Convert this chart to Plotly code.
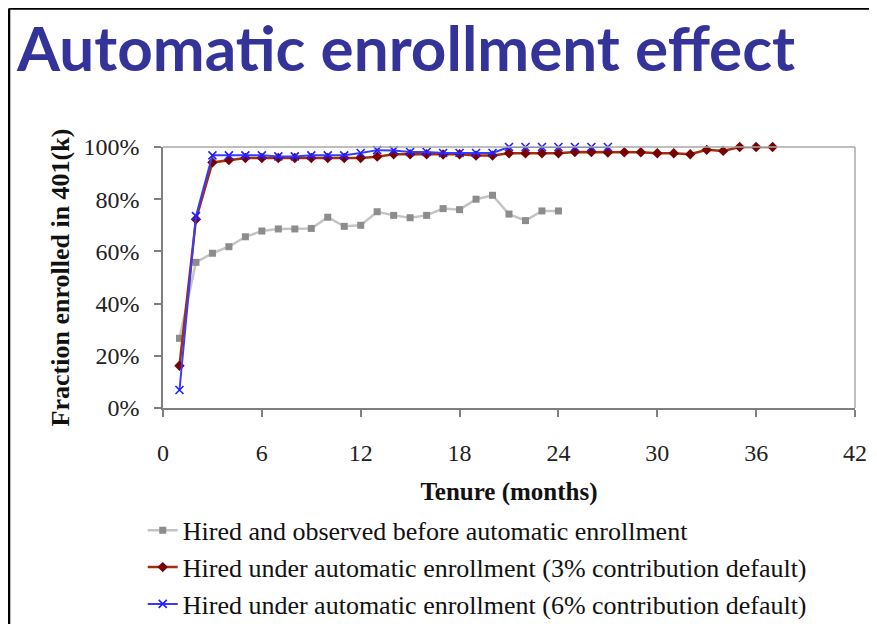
import plotly.graph_objects as go

# Tenure in months
months_before = list(range(1, 25))
months_3pct = list(range(1, 38))
months_6pct = list(range(1, 28))

# Fraction enrolled in 401(k)
frac_before = [0.267, 0.558, 0.593, 0.618, 0.656, 0.678, 0.686, 0.686, 0.688, 0.731,
               0.696, 0.700, 0.752, 0.738, 0.729, 0.738, 0.764, 0.760, 0.800, 0.815,
               0.743, 0.718, 0.755, 0.755]
frac_3pct = [0.162, 0.723, 0.941, 0.950, 0.958, 0.958, 0.958, 0.958, 0.958, 0.958,
             0.958, 0.958, 0.963, 0.972, 0.972, 0.972, 0.971, 0.972, 0.967, 0.967,
             0.976, 0.976, 0.976, 0.976, 0.981, 0.981, 0.979, 0.980, 0.980, 0.976,
             0.976, 0.972, 0.989, 0.985, 1.000, 1.000, 1.000]
frac_6pct = [0.069, 0.735, 0.968, 0.968, 0.968, 0.968, 0.964, 0.964, 0.968, 0.968,
             0.968, 0.977, 0.988, 0.987, 0.981, 0.981, 0.977, 0.977, 0.977, 0.977,
             1.000, 1.000, 1.000, 1.000, 1.000, 1.000, 1.000]

labels = [
    'Hired and observed before automatic enrollment',
    'Hired under automatic enrollment (3% contribution default)',
    'Hired under automatic enrollment (6% contribution default)',
]

serif = 'Liberation Serif'

fig = go.Figure()

fig.add_trace(
    go.Scatter(
        x=months_before,
        y=frac_before,
        name=labels[0],
        legendgroup='a',
        mode='lines+markers',
        line=dict(color='#c4c4c4', width=2.5),
        marker=dict(symbol='square', size=7, color='#8c8c8c'),
        cliponaxis=False
    )
)

fig.add_trace(
    go.Scatter(
        x=months_3pct,
        y=frac_3pct,
        name=labels[1],
        legendgroup='b',
        mode='lines+markers',
        line=dict(color='#a0300a', width=2.5),
        marker=dict(symbol='diamond', size=8, color='#7a0000'),
        cliponaxis=False
    )
)

fig.add_trace(
    go.Scatter(
        x=months_6pct,
        y=frac_6pct,
        name=labels[2],
        legendgroup='c',
        mode='lines+markers',
        line=dict(color='#3a3aff', width=2),
        marker=dict(symbol='x-thin', size=8, color='#2020ff',
                    line=dict(color='#2020ff', width=1.6)),
        cliponaxis=False
    )
)

fig.update_xaxes(
    range=[0, 42],
    dtick=6,
    tick0=0,
    automargin=False,
    showgrid=False,
    zeroline=False,
    showline=True,
    linecolor='#7f7f7f',
    linewidth=1.5,
    ticks='outside',
    ticklen=7,
    tickcolor='#7f7f7f',
    tickwidth=1.5,
    tickfont=dict(family=serif, size=24, color='#222222'),
    ticklabelstandoff=15,
    ticklabeloverflow='allow',
    title=dict(text='<b>Tenure (months)</b>',
               font=dict(family=serif, size=25, color='#111111'),
               standoff=18)
)

fig.update_yaxes(
    range=[0, 1],
    dtick=0.2,
    tickformat='.0%',
    automargin=False,
    showgrid=False,
    zeroline=False,
    showline=True,
    linecolor='#7f7f7f',
    linewidth=1.5,
    ticks='outside',
    ticklen=7,
    tickcolor='#7f7f7f',
    tickwidth=1.5,
    tickfont=dict(family=serif, size=24, color='#222222'),
    ticklabelstandoff=10,
    title=dict(text='<b>Fraction enrolled in 401(k)</b>',
               font=dict(family=serif, size=26, color='#111111'),
               standoff=6)
)

# light border on top and right of plot area
fig.add_shape(type='line', xref='paper', yref='paper', x0=0, x1=1, y0=1, y1=1,
              line=dict(color='#a8a8a8', width=1.5))
fig.add_shape(type='line', xref='paper', yref='paper', x0=1, x1=1, y0=0, y1=1,
              line=dict(color='#a8a8a8', width=1.5))

# slide frame (top and left edges)
fig.add_shape(type='line', xref='paper', yref='paper', x0=-0.2225, x1=1.06,
              y0=1.5308, y1=1.5308, line=dict(color='black', width=2.5))
fig.add_shape(type='line', xref='paper', yref='paper', x0=-0.2225, x1=-0.2225,
              y0=1.5308, y1=-0.95, line=dict(color='black', width=2.5))

fig.add_annotation(
    text='Automatic enrollment effect',
    xref='paper', yref='paper',
    x=-0.2153, y=1.532,
    xanchor='left', yanchor='top',
    showarrow=False,
    font=dict(family='Lato', size=62, color='#333399', weight=700)
)

# page body adds 8px around the figure, so it is made smaller
fig.update_layout(
    width=869,
    height=616,
    margin=dict(l=155, r=22, t=139, b=216, autoexpand=False),
    plot_bgcolor='white',
    paper_bgcolor='white',
    showlegend=True,
    legend=dict(
        x=-0.0293, y=-0.379,
        xanchor='left', yanchor='top',
        traceorder='grouped',
        tracegroupgap=0,
        font=dict(family=serif, size=26, color='#111111'),
        itemwidth=30,
        bgcolor='rgba(0,0,0,0)'
    )
)

fig.write_html('out.html')
